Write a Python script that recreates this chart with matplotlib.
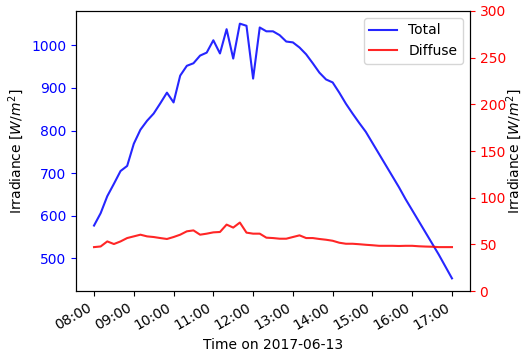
import numpy as np
import pandas as pd
import matplotlib
matplotlib.use("Agg")
import matplotlib.pyplot as plt
import matplotlib.dates as mdates

# 10-minute samples, 08:00 - 17:00 on 2017-06-13
times = pd.date_range("2017-06-13 08:00", "2017-06-13 17:00", freq="10min")

total = [577, 606, 646, 675, 705, 717, 769, 802, 823, 840,
         864, 889, 866, 929, 952, 958, 976, 983, 1012, 981,
         1038, 969, 1051, 1046, 922, 1042, 1033, 1033, 1024, 1009,
         1007, 995, 979, 958, 936, 920, 913, 889, 863, 840,
         818, 797, 771, 745, 719, 693, 667, 639, 613, 587,
         561, 535, 509, 481, 453]

diffuse = [47.1, 47.8, 53.2, 50.4, 53.2, 56.8, 58.6, 60.4, 58.6, 57.9,
           56.8, 55.8, 57.9, 60.4, 64.0, 65.0, 60.4, 61.5, 62.9, 63.3,
           71.2, 68.0, 73.4, 62.6, 61.5, 61.5, 57.2, 56.8, 56.1, 56.1,
           57.9, 59.7, 56.8, 56.8, 55.8, 55.0, 53.9, 51.8, 50.7, 50.7,
           50.2, 49.6, 49.1, 48.5, 48.5, 48.5, 48.3, 48.5, 48.5, 48.0,
           47.7, 47.5, 47.1, 47.1, 47.1]

fig, ax1 = plt.subplots(figsize=(5.25, 3.52), dpi=100)
fig.subplots_adjust(left=0.145, right=0.895, top=0.969, bottom=0.173)

l1, = ax1.plot(times, total, color="b", alpha=0.85, label="Total")
ax1.set_ylabel("Irradiance [$W/m^2$]")
ax1.tick_params(axis="y", colors="b")
ax1.set_xlabel("Time on 2017-06-13")

ax2 = ax1.twinx()
l2, = ax2.plot(times, diffuse, color="r", alpha=0.85, label="Diffuse")
ax2.set_ylim(0, 300)
# the reference clips this label at the edge; keep it just inside instead
ax2.set_ylabel("Irradiance [$W/m^2$]", labelpad=-1)
ax2.tick_params(axis="y", colors="r")

ax1.xaxis.set_major_locator(mdates.HourLocator())
ax1.xaxis.set_major_formatter(mdates.DateFormatter("%H:%M"))
for lab in ax1.get_xticklabels():
    lab.set_rotation(30)
    lab.set_ha("right")

ax1.legend([l1, l2], ["Total", "Diffuse"], loc="upper right")

fig.savefig("out.png", dpi=100)
